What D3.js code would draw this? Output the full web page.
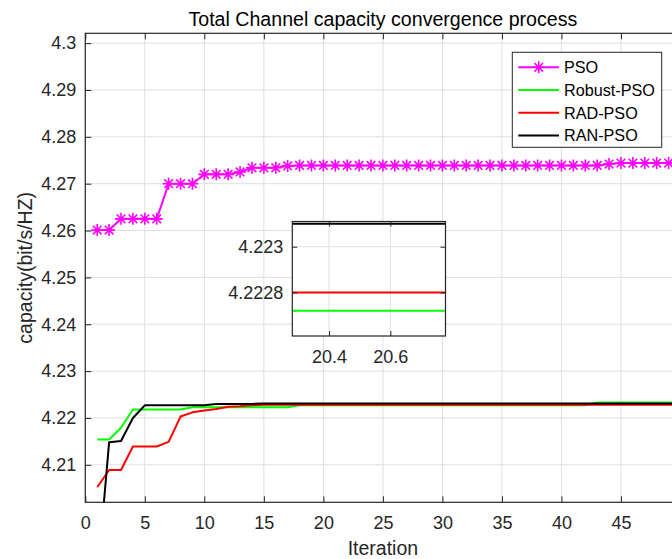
<!DOCTYPE html>
<html>
<head>
<meta charset="utf-8">
<script src="https://cdn.jsdelivr.net/npm/d3@7"></script>
<style>
  html, body { margin: 0; padding: 0; background: #fff; }
  svg { display: block; font-family: "Liberation Sans", Arial, Helvetica, sans-serif; }
</style>
</head>
<body>
<div id="chart"></div>
<script>
// iteration index and the four series
const iterations = [1, 2, 3, 4, 5, 6, 7, 8, 9, 10, 11, 12, 13, 14, 15, 16, 17, 18, 19, 20,
  21, 22, 23, 24, 25, 26, 27, 28, 29, 30, 31, 32, 33, 34, 35, 36, 37, 38, 39, 40,
  41, 42, 43, 44, 45, 46, 47, 48, 49, 50];

const psoValues = [4.2601, 4.2601, 4.2625, 4.2625, 4.2625, 4.2625, 4.2700, 4.2700, 4.2700, 4.2720,
  4.2720, 4.2720, 4.2725, 4.2734, 4.2734, 4.2734, 4.2738, 4.2739, 4.2739, 4.2739,
  4.2739, 4.2739, 4.2739, 4.2739, 4.2739, 4.2739, 4.2739, 4.2739, 4.2739, 4.2739,
  4.2739, 4.2739, 4.2739, 4.2739, 4.2739, 4.2739, 4.2739, 4.2739, 4.2739, 4.2739,
  4.2739, 4.2739, 4.2739, 4.2742, 4.2744, 4.2744, 4.2744, 4.2744, 4.2744, 4.2744];

const robustValues = [4.2154, 4.2154, 4.2179, 4.2218, 4.2218, 4.2218, 4.2218, 4.2218, 4.2223, 4.2223,
  4.2223, 4.2223, 4.2223, 4.2223, 4.2223, 4.2223, 4.2223, 4.22272, 4.22272, 4.22272,
  4.22272, 4.22272, 4.22272, 4.22272, 4.22272, 4.22272, 4.22272, 4.22272, 4.22272, 4.22272,
  4.22272, 4.22272, 4.22272, 4.22272, 4.22272, 4.22272, 4.22272, 4.22272, 4.22272, 4.22272,
  4.22272, 4.22272, 4.2233, 4.2233, 4.2233, 4.2233, 4.2233, 4.2233, 4.2233, 4.2233];

const radValues = [4.2052, 4.2089, 4.2089, 4.2139, 4.2139, 4.2139, 4.2149, 4.2203, 4.2212, 4.2216,
  4.2219, 4.2224, 4.2225, 4.2227, 4.2228, 4.2228, 4.2228, 4.2228, 4.2228, 4.2228,
  4.2228, 4.2228, 4.2228, 4.2228, 4.2228, 4.2228, 4.2228, 4.2228, 4.2228, 4.2228,
  4.2228, 4.2228, 4.2228, 4.2228, 4.2228, 4.2228, 4.2228, 4.2228, 4.2228, 4.2228,
  4.2228, 4.2228, 4.2228, 4.2228, 4.2228, 4.2228, 4.2228, 4.2228, 4.2228, 4.2228];

const ranValues = [4.1855, 4.2148, 4.2151, 4.2200, 4.2227, 4.2227, 4.2227, 4.2227, 4.2227, 4.2227,
  4.2230, 4.2230, 4.2230, 4.2230, 4.2231, 4.2231, 4.2231, 4.2231, 4.2231, 4.2231,
  4.2231, 4.2231, 4.2231, 4.2231, 4.2231, 4.2231, 4.2231, 4.2231, 4.2231, 4.2231,
  4.2231, 4.2231, 4.2231, 4.2231, 4.2231, 4.2231, 4.2231, 4.2231, 4.2231, 4.2231,
  4.2231, 4.2231, 4.2231, 4.2231, 4.2231, 4.2231, 4.2231, 4.2231, 4.2231, 4.2231];

const seriesNames = ["PSO", "Robust-PSO", "RAD-PSO", "RAN-PSO"];
const seriesColors = ["#ff00ff", "#00ff00", "#ff0000", "#000000"];

const xTicks = [0, 5, 10, 15, 20, 25, 30, 35, 40, 45, 50];
const yTicks = [4.21, 4.22, 4.23, 4.24, 4.25, 4.26, 4.27, 4.28, 4.29, 4.3];
const insetXTicks = [20.4, 20.6];
const insetYTicks = [4.2228, 4.223];

const titleText = "Total Channel capacity convergence process";
const xLabelText = "Iteration";
const yLabelText = "capacity(bit/s/HZ)";

function drawChart() {
  let width = 672,
    height = 559;
  let left = 85.3,
    right = 680.5,
    top = 33.3,
    bottom = 502.3;
  let axisColor = "#262626",
    gridColor = "#dfdfdf";

  let series = seriesNames.map((name, i) => ({
    name: name,
    color: seriesColors[i],
    values: [psoValues, robustValues, radValues, ranValues][i].map((v, j) => ({ x: iterations[j], y: v })),
  }));

  let xScale = d3.scaleLinear().domain([0, 50]).range([left, right]);
  let yScale = d3.scaleLinear().domain([4.202, 4.3021]).range([bottom, top]);

  let svg = d3
    .select("#chart")
    .append("svg")
    .attr("width", width)
    .attr("height", height);

  svg.append("rect").attr("width", width).attr("height", height).attr("fill", "#fff");

  let defs = svg.append("defs");
  defs
    .append("clipPath")
    .attr("id", "plot-clip")
    .append("rect")
    .attr("x", left)
    .attr("y", top)
    .attr("width", right - left)
    .attr("height", bottom - top);

  // grid
  svg
    .append("g")
    .selectAll("line")
    .data(xTicks)
    .enter()
    .append("line")
    .attr("x1", (d) => xScale(d))
    .attr("x2", (d) => xScale(d))
    .attr("y1", top)
    .attr("y2", bottom)
    .attr("stroke", gridColor)
    .attr("stroke-width", 1);
  svg
    .append("g")
    .selectAll("line")
    .data(yTicks)
    .enter()
    .append("line")
    .attr("x1", left)
    .attr("x2", right)
    .attr("y1", (d) => yScale(d))
    .attr("y2", (d) => yScale(d))
    .attr("stroke", gridColor)
    .attr("stroke-width", 1);

  let line = d3
    .line()
    .x((d) => xScale(d.x))
    .y((d) => yScale(d.y));

  let starPath = "M-6,0H6M0,-6V6M-4.3,-4.3L4.3,4.3M-4.3,4.3L4.3,-4.3";

  let plot = svg.append("g").attr("clip-path", "url(#plot-clip)");
  series.forEach((s) => {
    plot
      .append("path")
      .datum(s.values)
      .attr("d", line)
      .attr("fill", "none")
      .attr("stroke", s.color)
      .attr("stroke-width", 2)
      .attr("stroke-linejoin", "round");
  });
  plot
    .append("g")
    .selectAll("path")
    .data(series[0].values)
    .enter()
    .append("path")
    .attr("d", starPath)
    .attr("transform", (d) => "translate(" + xScale(d.x) + "," + yScale(d.y) + ")")
    .attr("stroke", series[0].color)
    .attr("stroke-width", 1.6)
    .attr("fill", "none");

  // axes (the 50 label sits past the window edge, so it is left blank)
  let xAxis = d3
    .axisBottom(xScale)
    .tickValues(xTicks)
    .tickFormat((d) => (d < 50 ? d : ""))
    .tickSizeInner(-6)
    .tickSizeOuter(0)
    .tickPadding(14);
  let yAxis = d3
    .axisLeft(yScale)
    .tickValues(yTicks)
    .tickFormat(d3.format(""))
    .tickSizeInner(-6)
    .tickSizeOuter(0)
    .tickPadding(9);
  let xAxisTop = d3.axisTop(xScale).tickValues(xTicks).tickSizeInner(-6).tickSizeOuter(0).tickFormat("");

  function styleAxis(g) {
    g.select(".domain").remove();
    g.selectAll(".tick line").attr("stroke", axisColor).attr("stroke-width", 1);
    g.selectAll(".tick text").attr("fill", axisColor).style("font-size", "18px");
    g.attr("font-family", null);
  }

  svg.append("g").attr("transform", "translate(0," + bottom + ")").call(xAxis).call(styleAxis);
  svg.append("g").attr("transform", "translate(0," + top + ")").call(xAxisTop).call(styleAxis);
  svg.append("g").attr("transform", "translate(" + left + ",0)").call(yAxis).call(styleAxis);

  svg
    .append("rect")
    .attr("x", left)
    .attr("y", top)
    .attr("width", right - left)
    .attr("height", bottom - top)
    .attr("fill", "none")
    .attr("stroke", axisColor)
    .attr("stroke-width", 1.2);

  // title and labels
  svg
    .append("text")
    .attr("x", (left + right) / 2)
    .attr("y", 26)
    .attr("text-anchor", "middle")
    .attr("fill", "#000")
    .style("font-size", "19.6px")
    .text(titleText);

  svg
    .append("text")
    .attr("x", (left + right) / 2)
    .attr("y", 555)
    .attr("text-anchor", "middle")
    .attr("fill", axisColor)
    .style("font-size", "19.5px")
    .text(xLabelText);

  svg
    .append("text")
    .attr("transform", "translate(31.5," + (top + bottom) / 2 + ") rotate(-90)")
    .attr("text-anchor", "middle")
    .attr("fill", axisColor)
    .style("font-size", "19.5px")
    .text(yLabelText);

  // legend
  let legendBox = { x: 512.3, y: 52.3, w: 149.4, h: 95 };
  let legend = svg.append("g").attr("id", "legend");
  legend
    .append("rect")
    .attr("x", legendBox.x)
    .attr("y", legendBox.y)
    .attr("width", legendBox.w)
    .attr("height", legendBox.h)
    .attr("fill", "#fff")
    .attr("stroke", axisColor)
    .attr("stroke-width", 1);

  let legendItem = legend
    .selectAll(".legend-item")
    .data(series)
    .enter()
    .append("g")
    .attr("class", "legend-item")
    .attr("transform", (d, i) => "translate(0," + (67.3 + i * 22.7) + ")");
  legendItem
    .append("line")
    .attr("x1", 518.3)
    .attr("x2", 559)
    .attr("stroke", (d) => d.color)
    .attr("stroke-width", 2);
  legendItem
    .filter((d, i) => i == 0)
    .append("path")
    .attr("d", starPath)
    .attr("transform", "translate(538.7,0)")
    .attr("stroke", (d) => d.color)
    .attr("stroke-width", 1.6)
    .attr("fill", "none");
  legendItem
    .append("text")
    .attr("x", 564)
    .attr("y", 5.8)
    .attr("fill", "#000")
    .style("font-size", "16.2px")
    .text((d) => d.name);

  // zoomed inset
  let inLeft = 292.3,
    inRight = 445.5,
    inTop = 221.5,
    inBottom = 336;
  let ixScale = d3.scaleLinear().domain([20.28, 20.78]).range([inLeft, inRight]);
  let iyScale = d3.scaleLinear().domain([4.22261, 4.22311]).range([inBottom, inTop]);

  defs
    .append("clipPath")
    .attr("id", "inset-clip")
    .append("rect")
    .attr("x", inLeft)
    .attr("y", inTop)
    .attr("width", inRight - inLeft)
    .attr("height", inBottom - inTop);

  let inset = svg.append("g").attr("id", "inset");
  inset
    .append("rect")
    .attr("x", inLeft)
    .attr("y", inTop)
    .attr("width", inRight - inLeft)
    .attr("height", inBottom - inTop)
    .attr("fill", "#fff");

  inset
    .append("g")
    .selectAll("line")
    .data(insetXTicks)
    .enter()
    .append("line")
    .attr("x1", (d) => ixScale(d))
    .attr("x2", (d) => ixScale(d))
    .attr("y1", inTop)
    .attr("y2", inBottom)
    .attr("stroke", gridColor);
  inset
    .append("g")
    .selectAll("line")
    .data(insetYTicks)
    .enter()
    .append("line")
    .attr("x1", inLeft)
    .attr("x2", inRight)
    .attr("y1", (d) => iyScale(d))
    .attr("y2", (d) => iyScale(d))
    .attr("stroke", gridColor);

  let insetLine = d3
    .line()
    .x((d) => ixScale(d.x))
    .y((d) => iyScale(d.y));
  let insetPlot = inset.append("g").attr("clip-path", "url(#inset-clip)");
  series.forEach((s) => {
    insetPlot
      .append("path")
      .datum(s.values.filter((d) => d.x >= 19 && d.x <= 22))
      .attr("d", insetLine)
      .attr("fill", "none")
      .attr("stroke", s.color)
      .attr("stroke-width", 2);
  });

  let ixAxis = d3
    .axisBottom(ixScale)
    .tickValues(insetXTicks)
    .tickFormat(d3.format(""))
    .tickSizeInner(-5)
    .tickSizeOuter(0)
    .tickPadding(14);
  let ixAxisTop = d3.axisTop(ixScale).tickValues(insetXTicks).tickSizeInner(-5).tickSizeOuter(0).tickFormat("");
  let iyAxis = d3
    .axisLeft(iyScale)
    .tickValues(insetYTicks)
    .tickFormat(d3.format(""))
    .tickSizeInner(-5)
    .tickSizeOuter(0)
    .tickPadding(9);
  let iyAxisRight = d3.axisRight(iyScale).tickValues(insetYTicks).tickSizeInner(-5).tickSizeOuter(0).tickFormat("");

  inset.append("g").attr("transform", "translate(0," + inBottom + ")").call(ixAxis).call(styleAxis);
  inset.append("g").attr("transform", "translate(0," + inTop + ")").call(ixAxisTop).call(styleAxis);
  inset.append("g").attr("transform", "translate(" + inLeft + ",0)").call(iyAxis).call(styleAxis);
  inset.append("g").attr("transform", "translate(" + inRight + ",0)").call(iyAxisRight).call(styleAxis);

  inset
    .append("rect")
    .attr("x", inLeft)
    .attr("y", inTop)
    .attr("width", inRight - inLeft)
    .attr("height", inBottom - inTop)
    .attr("fill", "none")
    .attr("stroke", axisColor)
    .attr("stroke-width", 1.2);
}

drawChart();
</script>
</body>
</html>
